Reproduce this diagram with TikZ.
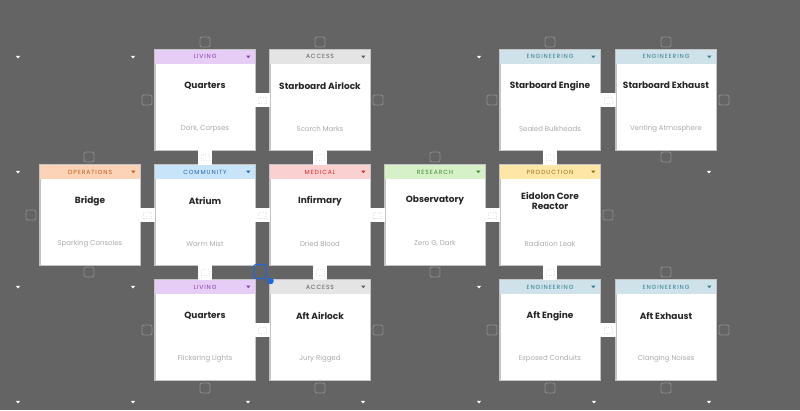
\documentclass[tikz,border=0pt]{standalone}
\usepackage{fontspec}
\setmainfont{Poppins}
\newfontfamily\hdrfont[LetterSpace=15]{Poppins}
\usetikzlibrary{calc}
\begin{document}
\definecolor{bg}{HTML}{646464}
\definecolor{cardline}{HTML}{C4C4C4}
\definecolor{phline}{HTML}{8E8E8E}
\definecolor{livingf}{HTML}{E6CDF5}\definecolor{livingt}{HTML}{8A3FB5}
\definecolor{accessf}{HTML}{E4E4E4}\definecolor{accesst}{HTML}{5A5A5A}
\definecolor{engf}{HTML}{CFE2EA}\definecolor{engt}{HTML}{2F7F8F}
\definecolor{opsf}{HTML}{FCD3B6}\definecolor{opst}{HTML}{C0581A}
\definecolor{comf}{HTML}{C8E4F8}\definecolor{comt}{HTML}{2566B0}
\definecolor{medf}{HTML}{FBD0D0}\definecolor{medt}{HTML}{D02828}
\definecolor{resf}{HTML}{D6F0C8}\definecolor{rest}{HTML}{3C8C2C}
\definecolor{prodf}{HTML}{FDE6A6}\definecolor{prodt}{HTML}{9A7010}
\definecolor{selblue}{HTML}{1F66E0}
\tikzset{
  card/.style={draw=cardline, fill=white, line width=0.6pt, minimum width=100pt, minimum height=100pt, inner sep=0pt},
  hdr/.style={minimum width=100pt, minimum height=14pt, inner sep=0pt, font=\hdrfont\fontsize{6}{7}\selectfont},
  ttl/.style={font=\bfseries\fontsize{9}{10}\selectfont, align=center, text=black!85, inner sep=0pt},
  sub/.style={font=\fontsize{7}{8}\selectfont, text=black!33, inner sep=0pt},
  conn/.style={line width=14pt, white},
  grip/.style={draw=black!12, dotted, line width=0.5pt, minimum width=8pt, minimum height=6pt, inner sep=0pt},
  ph/.style={draw=phline, line width=0.8pt, rounded corners=2pt, minimum size=10pt, inner sep=0pt},
  selbox/.style={draw=selblue, line width=1.4pt, rounded corners=1.5pt, minimum width=12pt, minimum height=14pt, inner sep=0pt},
  tri/.pic={\fill (-2.2,-1.2) -- (2.2,-1.2) -- (0,1.5) -- cycle;}
}
\newcommand\roomcard[7]{%
  \node[card] (#1) at (#2,#3) {};
  \node[hdr, fill=#5f, text=#5t, anchor=north] (#1-h) at (#1.north) {#4};
  \draw[cardline, line width=0.6pt] (#1.north west) rectangle (#1.south east);
  \pic[#5t] at ($(#1.north east)+(-7,7)$) {tri};
  \node[ttl] (#1-t) at ($(#1.north)+(0,36)$) {#6};
  \node[sub] (#1-s) at ($(#1.north)+(0,79)$) {#7};
}
\begin{tikzpicture}[x=1pt,y=-1pt]
\fill[bg] (0,0) rectangle (800,410);
\useasboundingbox (0,0) rectangle (800,410);

% empty-cell dropdown markers
\foreach \px/\py in {18/57,133/57,479/57,18/172,709/172,18/287,133/287,479/287,
  18/402,133/402,248/402,363/402,479/402,594/402,709/402}
  \pic[white] at (\px,\py) {tri};

% placeholders
\foreach \px/\py [count=\i] in {205/42,320/42,550/42,666/42,
  147/100,378/100,492/100,724/100,
  89/157,435/157,666/157,
  31/215,608/215,
  89/272,435/272,666/272,
  147/330,378/330,492/330,724/330,
  205/388,320/388,550/388,666/388}
  \node[ph] (ph\i) at (\px,\py) {};

% cards
\roomcard{qa}{205}{100}{LIVING}{living}{Quarters}{Dark, Corpses}
\roomcard{sa}{320}{100}{ACCESS}{access}{Starboard Airlock}{Scorch Marks}
\roomcard{se}{550}{100}{ENGINEERING}{eng}{Starboard Engine}{Sealed Bulkheads}
\roomcard{sx}{666}{100}{ENGINEERING}{eng}{Starboard Exhaust}{Venting Atmosphere}
\roomcard{br}{90}{215}{OPERATIONS}{ops}{Bridge}{Sparking Consoles}
\roomcard{at}{205}{215}{COMMUNITY}{com}{Atrium}{Warm Mist}
\roomcard{inf}{320}{215}{MEDICAL}{med}{Infirmary}{Dried Blood}
\roomcard{ob}{435}{215}{RESEARCH}{res}{Observatory}{Zero G, Dark}
\roomcard{er}{550}{215}{PRODUCTION}{prod}{Eidolon Core\\Reactor}{Radiation Leak}
\roomcard{qb}{205}{330}{LIVING}{living}{Quarters}{Flickering Lights}
\roomcard{aa}{320}{330}{ACCESS}{access}{Aft Airlock}{Jury Rigged}
\roomcard{ae}{550}{330}{ENGINEERING}{eng}{Aft Engine}{Exposed Conduits}
\roomcard{ax}{666}{330}{ENGINEERING}{eng}{Aft Exhaust}{Clanging Noises}

% connectors
\foreach \a/\b in {qa/sa,se/sx,br/at,at/inf,inf/ob,ob/er,qb/aa,ae/ax}
  \draw[conn] (\a.east) -- (\b.west) node[midway, grip] {};
\foreach \a/\b in {qa/at,sa/inf,se/er,at/qb,inf/aa,er/ae}
  \draw[conn] (\a.south) -- (\b.north) node[midway, grip] {};

% selection
\node[selbox] (sel) at (260,271.5) {};
\node[circle, fill=selblue, minimum size=6.5pt, inner sep=0pt] (seldot) at (270.5,281) {};
\end{tikzpicture}
\end{document}
